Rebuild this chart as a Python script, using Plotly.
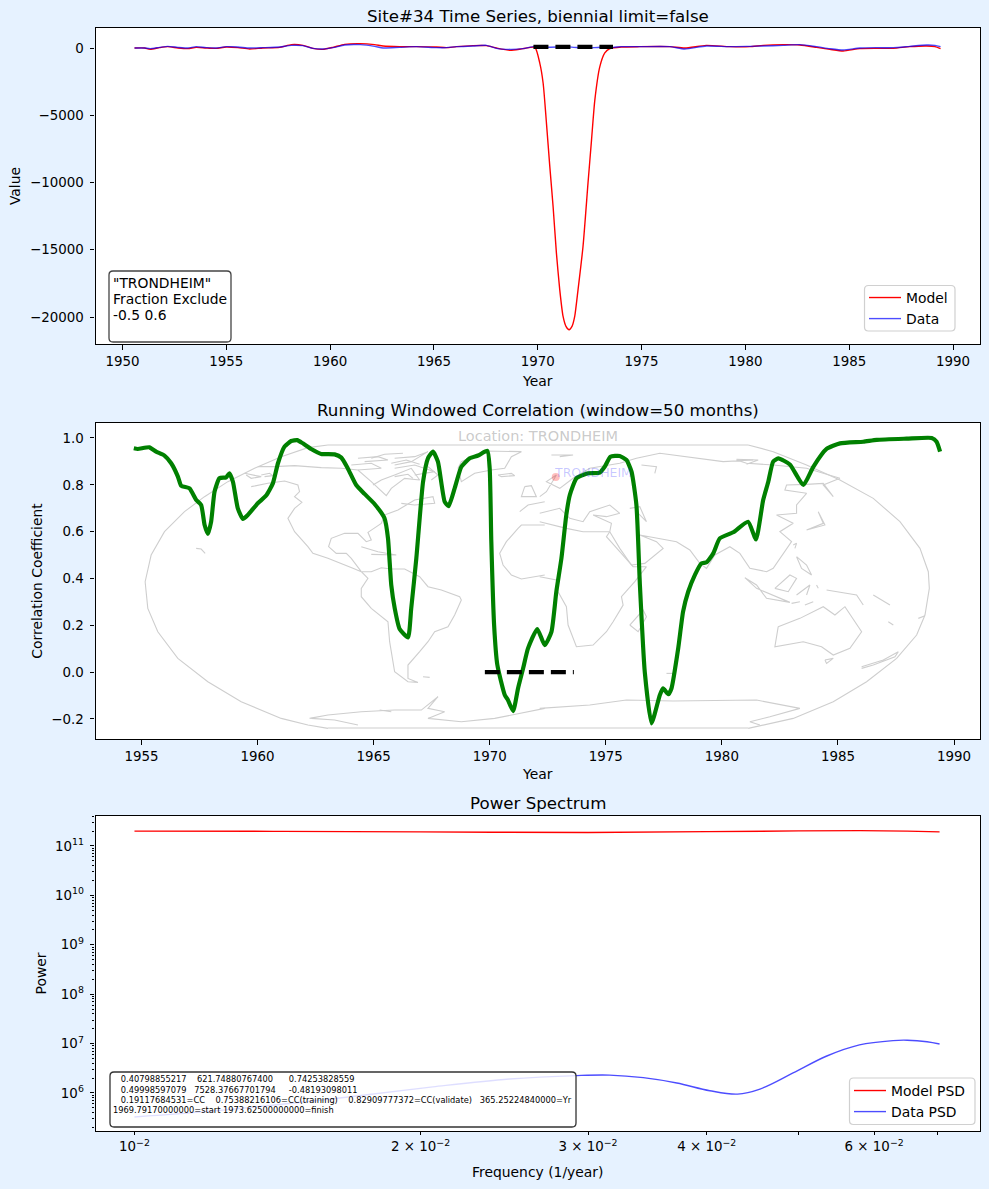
import plotly.graph_objects as go

W, H = 989, 1189
FONT = "DejaVu Sans"
BG = "#e6f2ff"

# ---- panel 1: time series ----
model_years = [1950.58,1951.06,1951.33,1951.78,1952.18,1952.67,1953.15,1953.55,1954.03,1954.51,1955.0,1955.56,1956.12,1956.76,1957.57,1958.13,1958.69,1959.17,1959.65,1960.14,1960.70,1961.45,1962.14,1962.55,1963.35,1964.15,1965.12,1965.60,1966.08,1966.88,1967.53,1968.01,1968.68,1969.29,
               1969.86,1970.10,1970.26,1970.42,1970.58,1970.74,1970.90,1971.06,1971.22,1971.36,1971.51,1971.65,1971.78,1971.94,1972.18,1972.42,1972.59,1972.75,1972.99,1973.23,1973.47,
               1974.03,1974.91,1976.36,1977.08,1978.12,1979.25,1980.21,1980.86,1981.82,1982.62,1983.43,1984.07,1984.71,1985.51,1986.32,1987.12,1987.92,1988.73,1989.13,1989.40]
model_values = [0,0,-99,25,99,0,-49,49,0,-25,74,25,-74,0,49,247,198,-25,-99,49,272,321,247,148,99,99,74,25,99,173,173,0,-173,-49,
                50,-1140,-2620,-5600,-8800,-11800,-15270,-17980,-19960,-20700,-20950,-20700,-19960,-17980,-14760,-10050,-6830,-3860,-1390,-370,-50,
                74,99,99,0,198,99,99,198,247,222,49,-99,-222,-49,-25,-25,99,148,99,-49]
data_years = [1950.58,1951.06,1951.33,1951.78,1952.18,1952.67,1953.15,1953.55,1954.03,1954.51,1955.0,1955.56,1956.12,1956.76,1957.57,1958.13,1958.69,1959.17,1959.65,1960.14,1960.70,1961.45,1962.14,1962.55,1963.35,1964.15,1965.12,1965.60,1966.08,1966.88,1967.53,1968.01,1968.68,1969.29,1969.85,
              1970.5,1971.5,1972.3,1973.0,
              1973.63,1974.03,1974.91,1976.36,1977.08,1978.12,1979.25,1980.21,1980.86,1981.82,1982.62,1983.43,1984.07,1984.71,1985.51,1986.32,1987.12,1987.92,1988.73,1989.13,1989.40]
data_values = [0,0,-49,49,124,49,0,99,25,0,99,74,0,25,74,198,173,-25,-74,25,222,247,124,0,49,99,25,25,99,148,198,-25,-99,-49,124,
               60,80,-20,60,
               49,99,99,99,-74,148,99,124,148,198,247,99,-49,-148,0,25,25,124,222,198,99]
exclude_years = [1969.7917, 1973.625]
exclude_level_ts = [90, 90]

# ---- panel 2: running correlation ----
corr_years = [1954.67,1954.84,1955.34,1955.63,1955.99,1956.28,1956.57,1956.71,1957.07,1957.36,1957.57,1957.72,1957.86,1958.00,1958.15,1958.36,1958.65,1958.79,1958.94,1959.15,1959.37,1959.58,1960.01,1960.37,1960.66,1960.88,1961.16,1961.45,1961.71,1961.95,1962.31,1962.74,1963.32,1963.61,1963.89,1964.25,1964.61,1965.04,1965.47,1965.62,1965.76,1965.91,1966.12,1966.48,1966.62,1966.84,1967.13,1967.34,1967.56,1967.77,1968.06,1968.23,1968.49,1968.78,1969.14,1969.50,1969.90,1970.00,1970.07,1970.19,1970.33,1970.65,1970.79,1971.01,1971.22,1971.44,1971.65,1972.05,1972.37,
              1972.66,1972.87,1973.09,1973.30,1973.45,1973.74,1974.24,1974.74,1974.96,1975.20,1975.60,1975.89,1976.11,1976.32,1976.47,1976.68,1976.97,1977.33,1977.47,1977.69,1977.83,1978.12,1978.33,1978.55,1978.84,1979.12,1979.34,1979.63,1979.91,1980.49,1981.13,1981.47,1981.78,1982.00,1982.21,1982.43,1982.93,1983.51,1983.94,1984.51,1985.09,1986.09,1986.67,1987.96,1989.04,1989.25,1989.40]
corr_values = [.956,.953,.960,.942,.925,.892,.835,.796,.785,.735,.714,.628,.590,.642,.771,.828,.832,.849,.813,.699,.654,.671,.721,.754,.806,.892,.963,.987,.991,.977,.953,.932,.930,.916,.870,.799,.761,.718,.657,.571,.372,.272,.184,.148,.272,.486,.813,.913,.942,.899,.728,.709,.785,.877,.913,.925,.945,.870,.557,.201,.030,-.098,-.120,-.167,-.070,.016,.101,.184,.115,
               .172,.343,.486,.671,.756,.828,.849,.852,.878,.920,.923,.906,.856,.714,.372,0.0,-.219,-.098,-.070,-.095,-.070,.101,.258,.343,.415,.464,.469,.507,.571,.597,.642,.567,.735,.813,.899,.913,.887,.799,.877,.953,.977,.984,.992,.997,1.0,.984,.942]
exclude_level_cc = [0, 0]

# ---- panel 3: power spectrum ----
model_freq = [.01,.014,.02,.03,.04,.05,.058,.065,.0703]
model_psd = [2.0e11,1.98e11,1.93e11,1.88e11,1.95e11,2.02e11,2.05e11,2.0e11,1.93e11]
data_freq = [.01,.01238,.01644,.0206,.0248,.0292,.0316,.0343,.0372,.0403,.0431,.0455,.0493,.0535,.0579,.0628,.065,.0682,.0703]
data_psd = [3.27e5,4.5e5,7.9e5,1.33e6,1.92e6,2.25e6,2.3e6,2.04e6,1.59e6,1.11e6,.95e6,1.2e6,2.54e6,5.6e6,9.4e6,1.15e7,1.17e7,1.09e7,9.8e6]

# ---- background map, traced in picture space of the reference ----
LEFT = [
 [(700,60),(640,68),(560,95),(480,130),(400,170),(330,215),(270,260),(210,320),(170,390),(152,470),(160,550),(190,620),(250,700),(340,770),(440,830),(560,880),(640,900),(700,910)],
 [(470,185),(520,175),(570,168),(610,180),(615,200),(600,215),(622,232),(600,250),(580,280),(600,320),(640,365),(655,385),(700,400),(740,415),(775,430),(800,440),(770,400),(755,385),(725,385),(702,365),(710,340),(750,325),(790,325),(815,350),(830,345),(820,322),(860,295),(870,270),(910,255),(960,225),(1015,215),(1020,235),(960,240),(920,235)],
 [(490,125),(540,125),(600,122),(680,128),(740,130),(790,135),(830,170),(875,212),(890,190),(930,160),(975,165),(950,130),(900,150),(860,165),(835,180)],
 [(800,440),(820,460),(800,490),(800,515),(830,550),(880,590),(885,650),(895,710),(900,740),(940,770),(970,772),(940,760),(940,720),(975,680),(1000,650),(1020,620),(1060,605),(1080,570),(1100,525),(1095,515),(1040,495),(1000,485),(975,455),(930,432),(890,432),(860,428),(830,440),(800,440)],
 [(1090,130),(1100,170),(1140,145),(1190,135),(1230,130),(1250,95),(1280,80),(1170,78),(1100,110),(1090,130)],
 [(790,100),(850,95),(880,105),(810,110)],[(770,120),(830,115),(860,130),(790,135)],[(900,100),(960,95),(1000,80),(950,110),(900,120)],[(900,130),(960,120),(1020,140),(960,150)],
 [(830,100),(870,88),(925,85)],[(890,115),(935,105),(975,118)],[(900,155),(940,148),(955,160)],[(1000,125),(1030,150),(1010,165)],
 [(450,145),(480,150),(500,155),(470,160),(455,150)],[(500,150),(525,145),(535,152),(510,155)],[(305,370),(320,372),(332,385)],
 [(800,365),(850,380),(905,390),(830,388)],[(1210,150),(1250,145),(1260,152),(1220,155),(1210,150)],
 [(1290,185),(1310,182),(1325,215),(1280,215),(1290,185)],[(1350,300),(1280,300),(1270,310),(1235,350),(1215,385),(1225,420),(1250,450),(1280,462),(1350,450)],
 [(1275,260),(1300,240),(1350,230)],
 [(645,880),(700,870),(800,860),(900,855),(980,855),(1030,815),(1000,850),(1050,860),(1000,880),(1100,890),(1200,880),(1350,850)],
 [(650,880),(720,885),(790,900)],[(985,755),(1005,757)],[(855,855),(890,860)],
]
RIGHT = [
 [(625,60),(700,80),(800,120),(900,165),(1000,220),(1080,290),(1140,370),(1165,440),(1168,490),(1155,570),(1130,630),(1070,700),(980,770),(880,830),(760,880),(625,910)],
 [(0,455),(50,465),(55,500),(80,545),(85,600),(100,640),(110,665),(160,660),(200,620),(220,590),(250,540),(245,515),(285,470),(320,425),(280,425),(240,380),(200,335),(210,320),(130,320),(80,310),(0,290)],
 [(270,600),(310,555),(320,575),(295,620),(270,600)],
 [(210,320),(240,370),(275,420),(315,415),(370,370),(350,350),(300,330),(410,350),(450,375),(480,415),(500,430),(525,390),(570,365),(600,385),(630,430),(680,440),(700,430),(755,350),(720,320),(760,295),(710,270),(770,265),(770,240),(800,205),(735,195),(740,180),(800,178),(850,175),(880,215),(850,180),(900,160),(800,130),(700,120),(620,115),(590,105),(640,105),(550,110),(430,95),(360,85),(290,100),(240,115),(150,130),(100,160),(60,190),(20,170),(50,150),(20,200),(0,215)],
 [(0,265),(60,250),(90,280),(130,290),(150,260),(210,240),(240,265),(200,275),(160,270),(215,295),(210,320)],
 [(270,250),(300,245),(320,290),(290,260)],
 [(615,458),(650,480),(680,520),(750,532),(650,490),(615,458)],
 [(705,490),(750,450),(770,460),(745,500),(705,490)],
 [(770,395),(800,420),(815,450),(785,430),(770,395)],
 [(715,605),(780,580),(850,545),(885,570),(915,545),(965,620),(930,670),(880,690),(845,665),(790,650),(705,665),(715,605)],
 [(965,725),(1030,705),(1075,680),(1065,695),(1000,720),(965,730)],
 [(855,705),(880,700),(860,715),(855,705)],
 [(800,315),(855,300),(835,260),(850,295),(800,315)],[(760,360),(770,355),(765,370)],
 [(860,495),(950,510),(970,540)],[(1000,510),(1050,540)],[(1045,590),(1060,600)],[(1135,580),(1155,572)],
 [(770,510),(810,480),(800,510)],[(830,480),(835,490)],[(755,535),(780,530)],[(795,540),(820,530)],[(35,90),(100,90),(60,95)],[(590,103),(655,105),(620,118)],[(305,120),(350,125),(345,145)],
 [(0,850),(150,840),(260,825),(400,828),(650,825),(780,850),(690,875),(630,890),(660,900)],[(380,745),(400,745)],
]

# pixel helpers for panel geometry
def yf(py):
    return 1 - py / H
def xf(px):
    return px / W
PX0, PX1 = 95.5, 980.0
P1 = (28, 344); P2 = (423, 739); P3 = (816, 1131)

CC_PER_PX = 1 / 234.0
def to_cc_x(px):
    return 1955 + (px - 142) / 23.2
def to_cc_y(py):
    return (672 - py) * CC_PER_PX

map_x, map_y = [], []
for group, x0 in ((LEFT, 95), (RIGHT, 540)):
    for poly in group:
        for zx, zy in poly:
            map_x.append(to_cc_x(x0 + zx / 3))
            map_y.append(to_cc_y(425 + zy / 3))
        map_x.append(None); map_y.append(None)
for a, b in (((95 + 700 / 3, 445), (540 + 625 / 3, 445)), ((95 + 700 / 3, 728), (540 + 625 / 3, 728))):
    map_x += [to_cc_x(a[0]), to_cc_x(b[0]), None]
    map_y += [to_cc_y(a[1]), to_cc_y(b[1]), None]

RED = "rgb(255,0,0)"
BLUE = "rgba(0,0,255,0.7)"
fig = go.Figure()
DASH = "15px,7px"

fig.add_trace(go.Scatter(x=model_years, y=model_values, name="Model", mode="lines", line=dict(color=RED, width=1.39, shape="spline", smoothing=0.6), xaxis="x", yaxis="y", legend="legend"))
fig.add_trace(go.Scatter(x=data_years, y=data_values, name="Data", mode="lines", line=dict(color=BLUE, width=1.39, shape="spline", smoothing=0.6), xaxis="x", yaxis="y", legend="legend"))
fig.add_trace(go.Scatter(x=exclude_years, y=exclude_level_ts, mode="lines", showlegend=False, line=dict(color="black", width=4.2, dash=DASH), xaxis="x", yaxis="y"))

fig.add_trace(go.Scatter(x=map_x, y=map_y, mode="lines", showlegend=False, hoverinfo="skip", line=dict(color="#cecece", width=1.1), xaxis="x2", yaxis="y2"))
fig.add_trace(go.Scatter(x=[to_cc_x(556)], y=[to_cc_y(477)], mode="markers", showlegend=False, hoverinfo="skip", marker=dict(color="rgba(255,0,0,0.25)", size=8), xaxis="x2", yaxis="y2"))
fig.add_trace(go.Scatter(x=corr_years, y=corr_values, mode="lines", showlegend=False, line=dict(color="green", width=4.17, shape="spline", smoothing=0.5), xaxis="x2", yaxis="y2"))
fig.add_trace(go.Scatter(x=exclude_years, y=exclude_level_cc, mode="lines", showlegend=False, line=dict(color="black", width=4.2, dash=DASH), xaxis="x2", yaxis="y2"))

fig.add_trace(go.Scatter(x=model_freq, y=model_psd, name="Model PSD", mode="lines", line=dict(color=RED, width=1.39, shape="spline"), xaxis="x3", yaxis="y3", legend="legend2"))
fig.add_trace(go.Scatter(x=data_freq, y=data_psd, name="Data PSD", mode="lines", line=dict(color=BLUE, width=1.39, shape="spline"), xaxis="x3", yaxis="y3", legend="legend2"))

def rounded(x0, y0, x1, y1, r=4):
    X = lambda p: f"{xf(p):.5f}"
    Y = lambda p: f"{yf(p):.5f}"
    return (f"M {X(x0+r)} {Y(y0)} L {X(x1-r)} {Y(y0)} Q {X(x1)} {Y(y0)} {X(x1)} {Y(y0+r)} "
            f"L {X(x1)} {Y(y1-r)} Q {X(x1)} {Y(y1)} {X(x1-r)} {Y(y1)} L {X(x0+r)} {Y(y1)} "
            f"Q {X(x0)} {Y(y1)} {X(x0)} {Y(y1-r)} L {X(x0)} {Y(y0+r)} Q {X(x0)} {Y(y0)} {X(x0+r)} {Y(y0)} Z")

boxes = [(109, 271, 231, 342, "#444444", 1.3), (110, 1072, 576, 1127, "#333333", 1.3),
         (864.5, 285.5, 955, 331, "#d0d0d0", 1.2), (849.5, 1078, 975, 1124.5, "#d0d0d0", 1.2)]
shapes = [dict(type="path", xref="paper", yref="paper", path=rounded(a, b, c, d), fillcolor="rgba(255,255,255,0.82)",
               line=dict(color=col, width=w), layer="above") for a, b, c, d, col, w in boxes]

def txt(px, py, text, size, color="black", xanchor="left"):
    return dict(xref="paper", yref="paper", x=xf(px), y=yf(py), text=text, showarrow=False, xanchor=xanchor, yanchor="middle",
                font=dict(family=FONT, size=size, color=color), align="left", xshift=0, yshift=0)

NB = "\u00a0"
annots = [
    txt(538, 17, "Site#34 Time Series, biennial limit=false", 16.67, xanchor="center"),
    txt(538, 410, "Running Windowed Correlation (window=50 months)", 16.67, xanchor="center"),
    txt(538, 804, "Power Spectrum", 16.67, xanchor="center"),
    txt(111, 283, '"TRONDHEIM"', 13.89), txt(111, 299, "Fraction Exclude", 13.89), txt(111, 315, "-0.5 0.6", 13.89),
    txt(111, 1079, f"{NB*3}0.40798855217{NB*4}621.74880767400{NB*6}0.74253828559", 8.25),
    txt(111, 1089.5, f"{NB*3}0.49998597079{NB*3}7528.37667701794{NB*5}-0.48193098011", 8.25),
    txt(111, 1100, f"{NB*3}0.19117684531=CC{NB*4}0.75388216106=CC(training){NB*4}0.82909777372=CC(validate){NB*3}365.25224840000=Yr", 8.25),
    txt(111, 1110, "1969.79170000000=start 1973.62500000000=finish", 8.25),
    txt(538, 436, "Location: TRONDHEIM", 14.5, "rgba(120,120,120,0.4)", "center"),
    txt(552, 472, "TRONDHEIM", 12.5, "rgba(0,0,255,0.22)"),
]

tickfont = dict(family=FONT, size=13.4, color="black")
legfont = dict(family=FONT, size=13.89, color="black")
titlefont = dict(family=FONT, size=13.89, color="black")
base = dict(showline=True, mirror=True, linecolor="black", linewidth=1.1, ticks="outside", ticklen=4.9, tickwidth=1.1, tickcolor="black",
            showgrid=False, zeroline=False, tickfont=tickfont)

minor_y = dict(ticks="outside", ticklen=2.8, tickwidth=0.8, tickcolor="black", dtick="D1", showgrid=False)

fig.update_layout(
    width=W, height=H, margin=dict(l=0, r=0, t=0, b=0), autosize=False,
    paper_bgcolor=BG, plot_bgcolor="white", font=dict(family=FONT, color="black"), shapes=shapes, annotations=annots,
    xaxis=dict(base, domain=[xf(PX0), xf(PX1)], range=[1948.7, 1991.3], dtick=5, tick0=1950, anchor="y",
               title=dict(text="Year", font=titlefont, standoff=8)),
    yaxis=dict(base, domain=[yf(P1[1]), yf(P1[0])], range=[-22007, 1487], dtick=5000, tick0=0, anchor="x", tickformat="d", ticklabelstandoff=3,
               title=dict(text="Value", font=titlefont, standoff=6)),
    xaxis2=dict(base, domain=[xf(PX0), xf(PX1)], range=[1953.02, 1991.12], dtick=5, tick0=1955, anchor="y2",
                title=dict(text="Year", font=titlefont, standoff=6)),
    yaxis2=dict(base, domain=[yf(P2[1]), yf(P2[0])], range=[-0.286, 1.064], dtick=0.2, tick0=0, tickformat=".1f", anchor="x2", ticklabelstandoff=3,
                title=dict(text="Correlation Coefficient", font=titlefont, standoff=5)),
    xaxis3=dict(base, type="log", domain=[xf(PX0), xf(PX1)], range=[-2.041, -1.1105], anchor="y3", ticklen=3,
                tickvals=[.01, .02, .03, .04, .06],
                ticktext=["10<sup>\u22122</sup>", "2 \u00d7 10<sup>\u22122</sup>", "3 \u00d7 10<sup>\u22122</sup>", "4 \u00d7 10<sup>\u22122</sup>", "6 \u00d7 10<sup>\u22122</sup>"],
                minor=dict(ticks="outside", ticklen=3, tickwidth=1, tickcolor="black", tickvals=[.05, .07, .09], showgrid=False),
                title=dict(text="Frequency (1/year)", font=titlefont, standoff=14)),
    yaxis3=dict(base, type="log", domain=[yf(P3[1]), yf(P3[0])], range=[5.23, 11.607], anchor="x3", ticklabelstandoff=3,
                tickvals=[1e6, 1e7, 1e8, 1e9, 1e10, 1e11],
                ticktext=["10<sup>6</sup>", "10<sup>7</sup>", "10<sup>8</sup>", "10<sup>9</sup>", "10<sup>10</sup>", "10<sup>11</sup>"],
                minor=minor_y, title=dict(text="Power", font=titlefont, standoff=5)),
    legend=dict(x=xf(864), y=yf(282), xanchor="left", yanchor="top", bgcolor="rgba(0,0,0,0)", borderwidth=0, font=legfont, tracegroupgap=0, itemwidth=32),
    legend2=dict(x=xf(849), y=yf(1075), xanchor="left", yanchor="top", bgcolor="rgba(0,0,0,0)", borderwidth=0, font=legfont, tracegroupgap=0, itemwidth=32),
)

fig.write_html("out.html", config=dict(displayModeBar=False),
               post_script="document.documentElement.style.margin='0';document.body.style.margin='0';")
